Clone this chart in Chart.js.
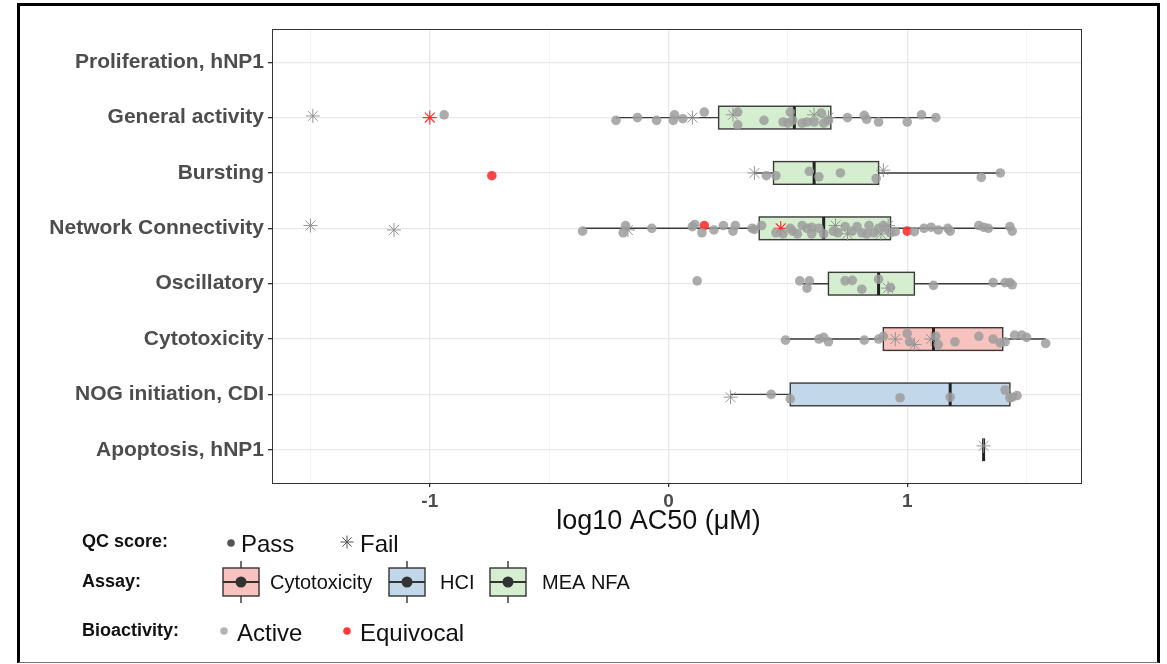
<!DOCTYPE html>
<html>
<head>
<meta charset="utf-8">
<script src="https://cdn.jsdelivr.net/npm/chart.js@4.4.0/dist/chart.umd.min.js"></script>
<style>
  html, body { margin: 0; padding: 0; background: #fff; }
  #wrap { position: relative; width: 1167px; height: 664px; }
  #frame {
    position: absolute; left: 17px; top: 3px; width: 1143px; height: 660px;
    box-sizing: border-box; border: 3px solid #000; border-bottom: 1px solid #777;
    pointer-events: none;
  }
</style>
</head>
<body>
<div id="wrap">
  <canvas id="chart" width="1167" height="664"></canvas>
  <div id="frame"></div>
</div>
<script>
// rows, top to bottom
const rowLabels = ['Proliferation, hNP1', 'General activity', 'Bursting', 'Network Connectivity',
  'Oscillatory', 'Cytotoxicity', 'NOG initiation, CDI', 'Apoptosis, hNP1'];

// box stats per row (log10 AC50)
const boxRow = [1, 2, 3, 4, 5, 6, 7];
const boxLo  = [-0.22, 0.36, -0.36, 0.56, 0.49, 0.26, 1.32];
const boxQ1  = [0.21, 0.44, 0.38, 0.67, 0.90, 0.51, 1.32];
const boxMed = [0.527, 0.61, 0.65, 0.88, 1.11, 1.18, 1.32];
const boxQ3  = [0.68, 0.88, 0.93, 1.03, 1.40, 1.43, 1.32];
const boxHi  = [1.12, 1.39, 1.43, 1.44, 1.58, 1.46, 1.32];
const boxAssay = ['MEA NFA', 'MEA NFA', 'MEA NFA', 'MEA NFA', 'Cytotoxicity', 'HCI', 'HCI'];

const assayNames = ['Cytotoxicity', 'HCI', 'MEA NFA'];
const assayFills = ['#f8c3be', '#c3d7eb', '#d4eecf'];

// points per row: [log10 AC50, vertical jitter]
const generalPass = [[-0.94,-0.05],[-0.22,0.05],[-0.13,0.0],[-0.05,0.05],[0.025,-0.05],[0.02,0.05],
  [0.06,0.02],[0.15,-0.1],[0.29,-0.1],[0.29,0.13],[0.40,0.05],[0.48,0.08],[0.50,0.1],[0.51,-0.1],
  [0.52,0.05],[0.56,0.1],[0.58,0.08],[0.61,0.08],[0.64,-0.08],[0.65,0.1],[0.67,0.05],[0.75,0.0],
  [0.82,-0.04],[0.83,0.03],[0.88,0.08],[1.0,0.08],[1.06,-0.05],[1.12,0.0]];
const generalFail = [[-1.49,-0.03],[0.10,0.0],[0.27,-0.05],[0.61,-0.05],[0.67,0.0]];
const generalEquivFail = [[-1.0,0.0]];

const burstingPass = [[0.41,0.05],[0.45,0.05],[0.59,-0.03],[0.63,0.07],[0.72,0.0],[0.87,0.1],
  [1.31,0.08],[1.39,0.0]];
const burstingFail = [[0.36,0.0],[0.90,-0.05]];
const burstingEquivPass = [[-0.74,0.05]];

const networkPass = [[-0.36,0.05],[-0.18,-0.05],[-0.19,0.08],[-0.07,0.0],[0.10,-0.03],[0.11,-0.07],
  [0.14,0.08],[0.19,0.03],[0.23,-0.05],[0.28,-0.05],[0.27,0.05],[0.35,0.0],[0.36,0.02],[0.39,-0.05],
  [0.48,0.1],[0.51,0.0],[0.52,0.05],[0.56,-0.05],[0.58,0.0],[0.60,-0.02],[0.63,0.0],[0.65,0.1],
  [0.69,0.05],[0.74,-0.03],[0.77,0.05],[0.79,-0.03],[0.81,0.08],[0.84,-0.05],[0.86,0.08],[0.88,0.0],
  [0.91,0.0],[0.93,0.08],[0.95,0.06],[1.03,0.06],[1.07,0.0],[1.10,-0.02],[1.13,0.03],[1.17,0.0],
  [1.18,0.05],[1.30,-0.05],[1.32,-0.02],[1.34,0.0],[1.43,-0.03],[1.44,0.05],[0.45,0.08],[0.54,0.1],
  [0.71,0.08],[0.83,0.1],[0.60,0.1],[0.90,-0.05]];
const networkFail = [[-1.50,-0.05],[-1.15,0.03],[-0.17,0.03],[0.70,-0.05],[0.75,0.1],[0.89,0.1],[0.92,-0.05]];
const networkEquivPass = [[0.15,-0.05],[1.0,0.05]];
const networkEquivFail = [[0.47,0.0]];

const oscillPass = [[0.12,-0.05],[0.55,-0.05],[0.59,-0.05],[0.58,0.08],[0.74,-0.05],[0.77,-0.06],
  [0.81,0.1],[0.88,-0.08],[0.93,0.07],[1.11,0.03],[1.36,-0.02],[1.41,-0.02],[1.43,-0.02],[1.44,0.02]];
const oscillFail = [[0.92,0.08]];

const cytoPass = [[0.49,0.02],[0.63,0.0],[0.65,-0.03],[0.67,0.05],[0.82,0.02],[0.88,0.0],[0.90,-0.05],
  [1.0,-0.1],[1.01,0.05],[1.12,-0.05],[1.13,0.1],[1.20,0.05],[1.30,-0.05],[1.36,0.0],[1.39,0.07],
  [1.41,0.05],[1.45,-0.07],[1.48,-0.07],[1.50,-0.03],[1.58,0.08]];
const cytoFail = [[0.95,0.0],[1.03,0.1],[1.10,0.0]];

const nogPass = [[0.43,0.0],[0.51,0.08],[0.97,0.06],[1.18,0.05],[1.41,-0.08],[1.43,0.06],[1.44,0.05],[1.46,0.02]];
const nogFail = [[0.26,0.05]];

const apoptosisFail = [[1.32,-0.07]];

const xTickValues = [-1, 0, 1];
const xGridValues = [-1.5, -1, -0.5, 0, 0.5, 1, 1.5];
const xTitle = 'log10 AC50 (μM)';

function toPoints(rows) {
  const out = [];
  rows.forEach(([row, pts]) => pts.forEach(p => out.push({ x: p[0], y: row + p[1] })));
  return out;
}

const activePass = toPoints([[1, generalPass], [2, burstingPass], [3, networkPass], [4, oscillPass], [5, cytoPass], [6, nogPass]]);
const activeFail = toPoints([[1, generalFail], [2, burstingFail], [3, networkFail], [4, oscillFail], [5, cytoFail], [6, nogFail], [7, apoptosisFail]]);
const equivPass = toPoints([[2, burstingEquivPass], [3, networkEquivPass]]);
const equivFail = toPoints([[1, generalEquivFail], [3, networkEquivFail]]);

const FONT = "'Liberation Sans', Arial, sans-serif";
const isMajor = c => c.tick && xTickValues.includes(c.tick.value);

// box plots drawn through the chart scales
const boxPlugin = {
  id: 'boxes',
  beforeDatasetsDraw(chart) {
    const { ctx, scales: { x, y } } = chart;
    ctx.save();
    boxRow.forEach((row, i) => {
      const cy = y.getPixelForValue(row);
      const half = Math.abs(y.getPixelForValue(row + 0.205) - cy);
      const xl = x.getPixelForValue(boxLo[i]), x1 = x.getPixelForValue(boxQ1[i]);
      const xm = x.getPixelForValue(boxMed[i]), x3 = x.getPixelForValue(boxQ3[i]);
      const xh = x.getPixelForValue(boxHi[i]);
      ctx.strokeStyle = '#3a3a3a';
      ctx.lineWidth = 1.4;
      ctx.beginPath();
      ctx.moveTo(xl, cy); ctx.lineTo(x1, cy);
      ctx.moveTo(x3, cy); ctx.lineTo(xh, cy);
      ctx.stroke();
      ctx.fillStyle = assayFills[assayNames.indexOf(boxAssay[i])];
      if (x3 - x1 > 0.5) {
        ctx.fillRect(x1, cy - half, x3 - x1, half * 2);
        ctx.strokeRect(x1, cy - half, x3 - x1, half * 2);
      }
      ctx.lineWidth = 3;
      ctx.strokeStyle = '#222';
      ctx.beginPath();
      ctx.moveTo(xm, cy - half); ctx.lineTo(xm, cy + half);
      ctx.stroke();
    });
    ctx.restore();
  },
  afterDraw(chart) {
    const { ctx, chartArea: a } = chart;
    ctx.save();
    ctx.strokeStyle = '#333';
    ctx.lineWidth = 1;
    ctx.strokeRect(a.left + 0.5, a.top + 0.5, a.right - a.left, a.bottom - a.top);
    // axis title
    ctx.fillStyle = '#111';
    ctx.font = '27px ' + FONT;
    ctx.textAlign = 'center';
    ctx.textBaseline = 'middle';
    ctx.fillText(xTitle, (a.left + a.right) / 2 - 18, a.bottom + 39);
    drawLegend(ctx);
    ctx.restore();
  }
};

function drawLegendBox(ctx, cx, cy, fill) {
  ctx.strokeStyle = '#333';
  ctx.lineWidth = 1.4;
  ctx.beginPath();
  ctx.moveTo(cx, cy - 21); ctx.lineTo(cx, cy + 21);
  ctx.stroke();
  ctx.fillStyle = fill;
  ctx.fillRect(cx - 18, cy - 14, 36, 28);
  ctx.strokeRect(cx - 18, cy - 14, 36, 28);
  ctx.lineWidth = 2;
  ctx.beginPath();
  ctx.moveTo(cx - 18, cy); ctx.lineTo(cx + 18, cy);
  ctx.stroke();
  ctx.fillStyle = '#333';
  ctx.beginPath();
  ctx.arc(cx, cy, 5.5, 0, Math.PI * 2);
  ctx.fill();
}

function drawStar(ctx, cx, cy, r, color) {
  ctx.strokeStyle = color;
  ctx.lineWidth = 1;
  ctx.beginPath();
  for (let k = 0; k < 4; k++) {
    const ang = k * Math.PI / 4;
    ctx.moveTo(cx - r * Math.cos(ang), cy - r * Math.sin(ang));
    ctx.lineTo(cx + r * Math.cos(ang), cy + r * Math.sin(ang));
  }
  ctx.stroke();
}

function drawLegend(ctx) {
  ctx.textBaseline = 'middle';
  ctx.textAlign = 'left';
  ctx.fillStyle = '#111';
  ctx.font = 'bold 18px ' + FONT;
  ctx.fillText('QC score:', 82, 542);
  ctx.fillText('Assay:', 82, 582);
  ctx.fillText('Bioactivity:', 82, 631);

  ctx.font = '24px ' + FONT;
  ctx.fillStyle = '#555';
  ctx.beginPath(); ctx.arc(231, 543, 3.8, 0, Math.PI * 2); ctx.fill();
  ctx.fillStyle = '#111';
  ctx.fillText('Pass', 241, 545);
  drawStar(ctx, 347, 542, 6.5, '#555');
  ctx.fillText('Fail', 360, 545);

  const iconX = [241, 407, 508];
  const textX = [270, 440, 542];
  assayNames.forEach((name, i) => {
    drawLegendBox(ctx, iconX[i], 582, assayFills[i]);
    ctx.fillStyle = '#111';
    ctx.font = '20px ' + FONT;
    ctx.fillText(name, textX[i], 583);
  });

  ctx.font = '24px ' + FONT;
  ctx.fillStyle = '#b3b3b3';
  ctx.beginPath(); ctx.arc(224, 631, 3.8, 0, Math.PI * 2); ctx.fill();
  ctx.fillStyle = '#ff3b3b';
  ctx.beginPath(); ctx.arc(347, 631, 3.8, 0, Math.PI * 2); ctx.fill();
  ctx.fillStyle = '#111';
  ctx.fillText('Active', 237, 634);
  ctx.fillText('Equivocal', 360, 634);
}

new Chart(document.getElementById('chart'), {
  type: 'scatter',
  data: {
    datasets: [
      { label: 'Active pass', data: activePass, pointStyle: 'circle', pointRadius: 4.8,
        backgroundColor: 'rgba(158,158,158,0.85)', borderWidth: 0 },
      { label: 'Active fail', data: activeFail, pointStyle: 'star', pointRadius: 7,
        borderColor: 'rgba(140,140,140,0.9)', backgroundColor: 'rgba(0,0,0,0)', borderWidth: 1 },
      { label: 'Equivocal pass', data: equivPass, pointStyle: 'circle', pointRadius: 4.8,
        backgroundColor: 'rgba(255,50,50,0.9)', borderWidth: 0 },
      { label: 'Equivocal fail', data: equivFail, pointStyle: 'star', pointRadius: 7,
        borderColor: 'rgba(255,40,40,0.95)', backgroundColor: 'rgba(0,0,0,0)', borderWidth: 1.2 }
    ]
  },
  options: {
    responsive: false,
    animation: false,
    layout: { padding: { left: 0, right: 86, top: 29, bottom: 126 } },
    plugins: { legend: { display: false }, tooltip: { enabled: false } },
    scales: {
      x: {
        type: 'linear', min: -1.661, max: 1.728, bounds: 'data',
        afterBuildTicks: s => { s.ticks = xGridValues.map(v => ({ value: v })); },
        afterFit: s => { s.height = 55; },
        ticks: {
          maxRotation: 0, padding: 3, autoSkip: false,
          color: '#4d4d4d', font: { family: FONT, size: 19, weight: 'bold' },
          callback: v => xTickValues.includes(v) ? String(v) : ''
        },
        grid: {
          color: c => isMajor(c) ? '#e8e8e8' : '#f4f4f4',
          lineWidth: c => isMajor(c) ? 1.3 : 1,
          tickColor: c => isMajor(c) ? '#333' : 'rgba(0,0,0,0)',
          tickLength: 4
        },
        border: { display: true, color: '#333', width: 1 }
      },
      y: {
        type: 'linear', min: -0.6, max: 7.6, reverse: true, bounds: 'data',
        afterBuildTicks: s => { s.ticks = rowLabels.map((l, i) => ({ value: i })); },
        afterFit: s => { s.width = 272; },
        ticks: {
          padding: 4, autoSkip: false,
          color: '#4d4d4d', font: { family: FONT, size: 21, weight: 'bold' },
          callback: v => rowLabels[v] || ''
        },
        grid: { color: '#e8e8e8', lineWidth: 1.3, tickColor: '#333', tickLength: 4 },
        border: { display: true, color: '#333', width: 1 }
      }
    }
  },
  plugins: [boxPlugin]
});
</script>
</body>
</html>
